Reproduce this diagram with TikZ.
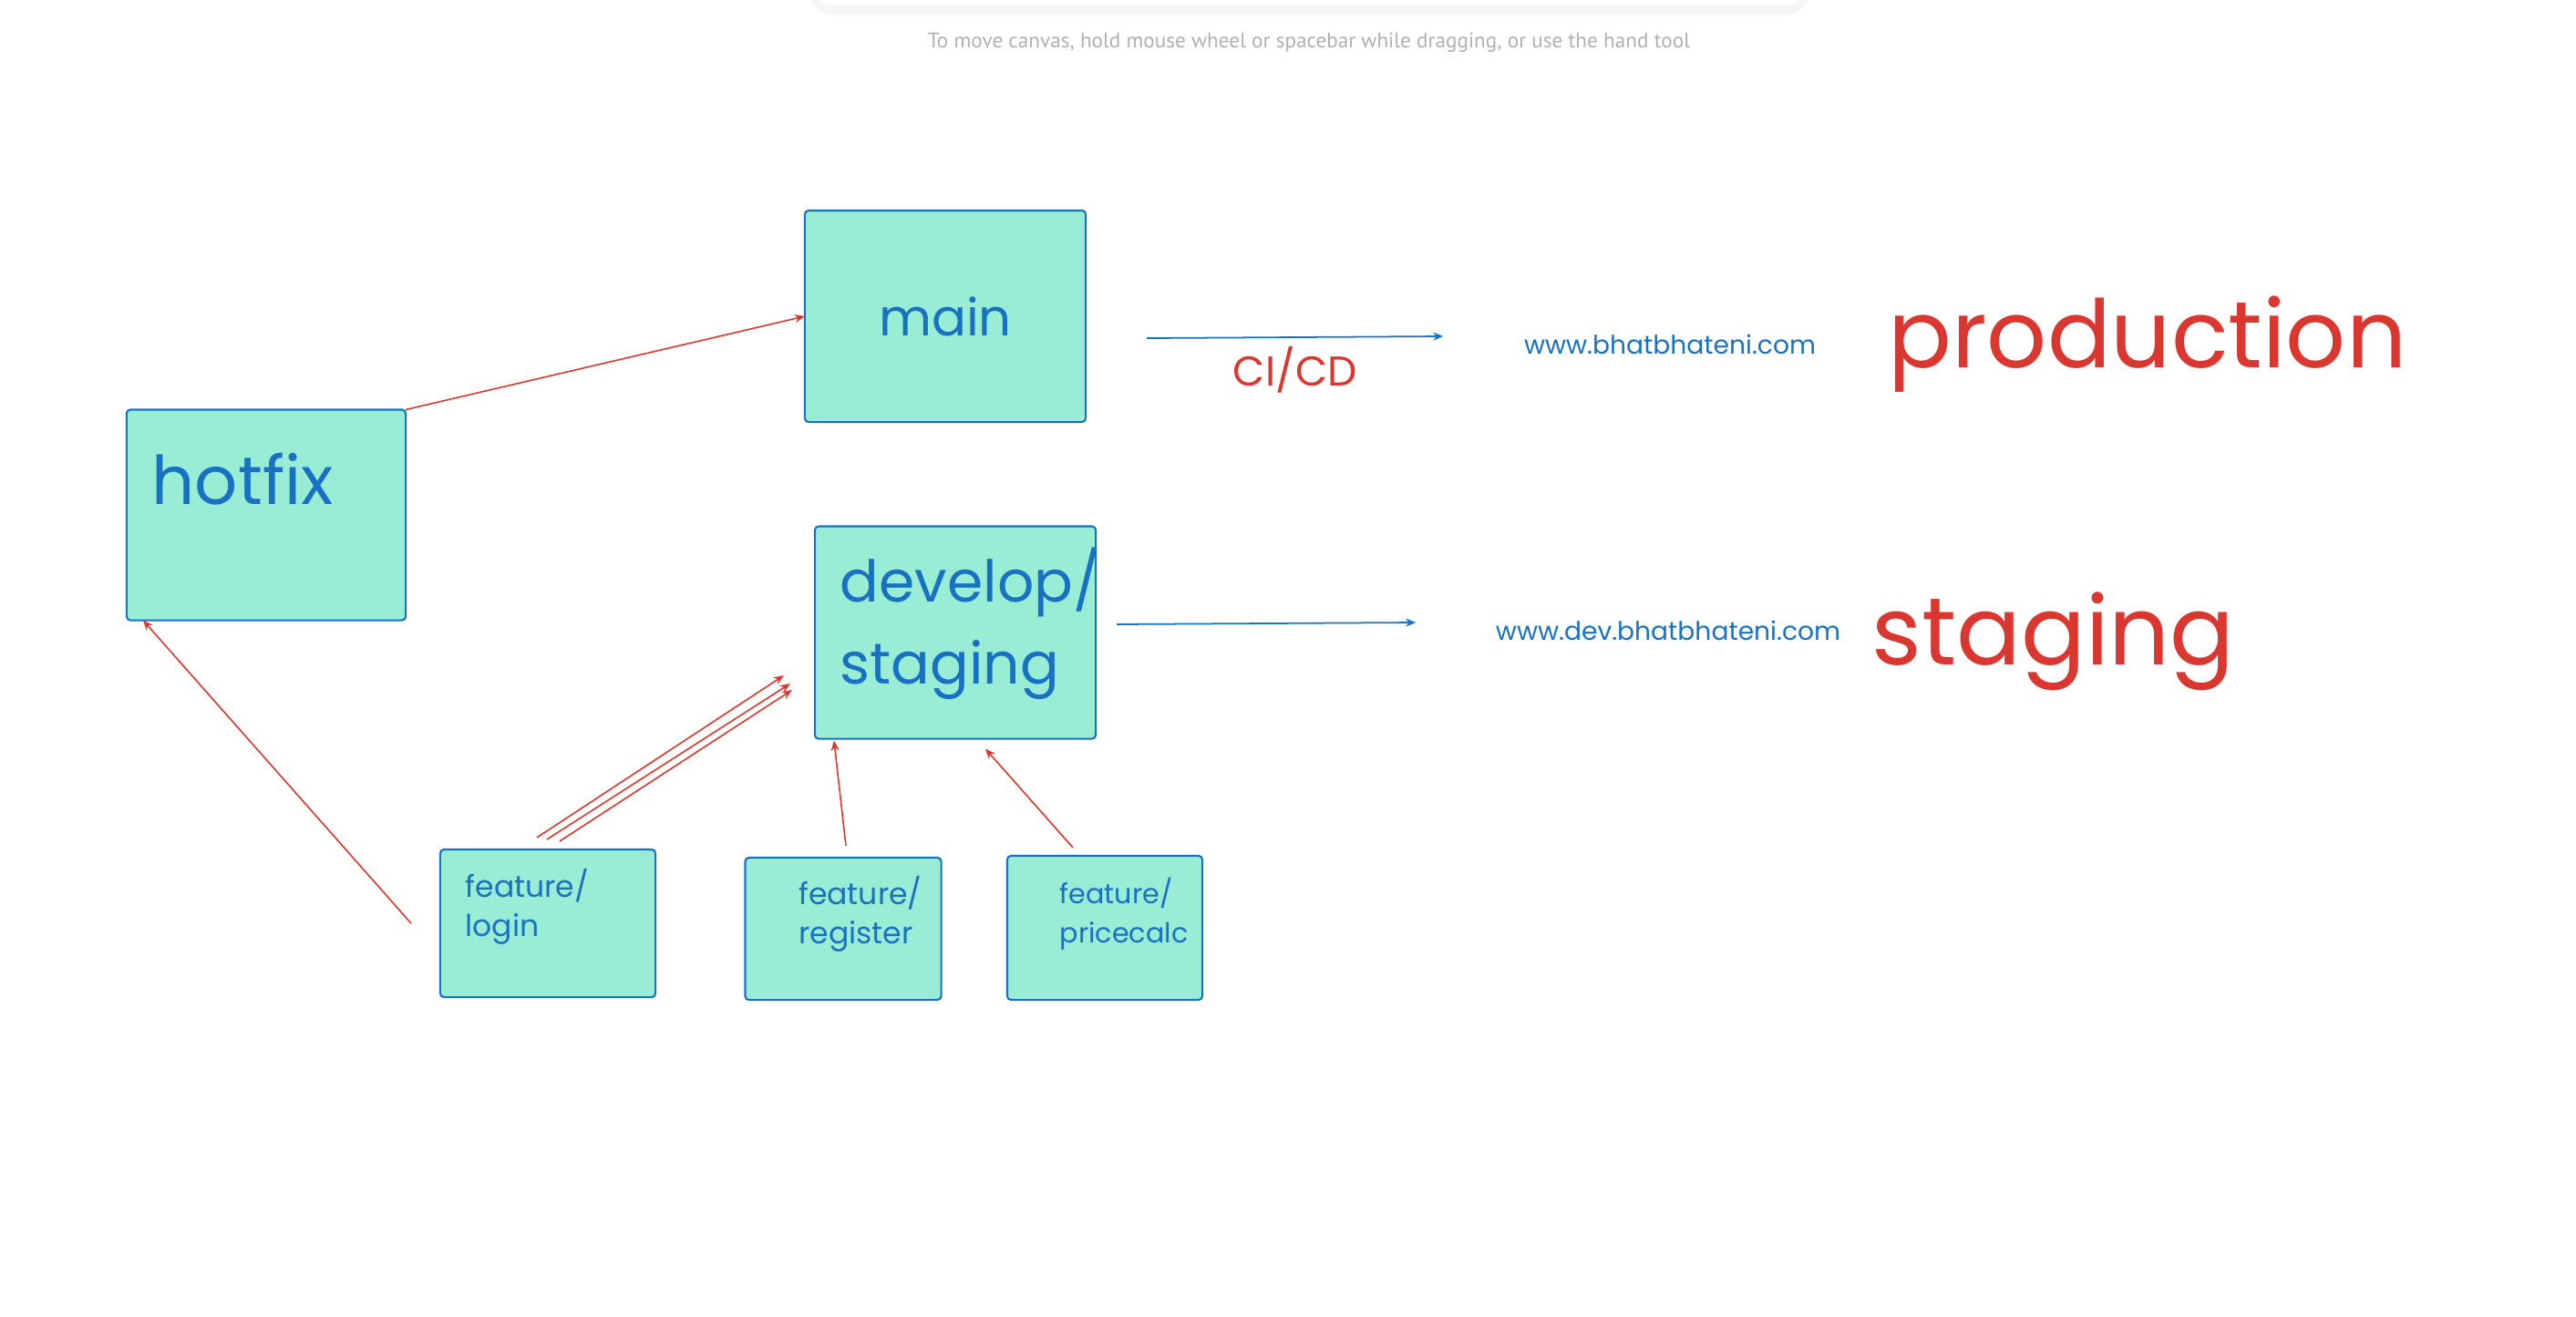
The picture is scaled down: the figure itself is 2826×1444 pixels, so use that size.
\documentclass[tikz,border=0pt]{standalone}
\usepackage{fontspec}
\setmainfont{Poppins}
\newfontfamily\hintfont{PT Sans}
\usetikzlibrary{arrows.meta,positioning,shadows}

\definecolor{mint}{HTML}{99EDD4}
\definecolor{inkblue}{HTML}{1971C2}
\definecolor{inkred}{HTML}{D9372F}
\definecolor{hintgray}{HTML}{B0B0B0}

\tikzset{
  branch/.style={draw=inkblue, fill=mint, line width=0.6pt, rounded corners=1.2pt,
    inner sep=0pt, outer sep=0pt},
  tag/.style={text=inkblue, inner sep=0pt, align=left},
  word/.style={text=inkred, inner sep=0pt},
  merge/.style={draw=inkred, line width=0.45pt, -{Stealth[length=1.1mm,width=0.9mm]}},
  deploy/.style={draw=inkblue, line width=0.5pt, -{Stealth[length=1.1mm,width=0.9mm]}},
}

\begin{document}
\begin{tikzpicture}[x=0.01cm,y=-0.01cm]
  \useasboundingbox (0,0) rectangle (2826,1444);

  % toolbar edge and canvas hint
  \fill[white, rounded corners=8pt,
    drop shadow={opacity=0.07,shadow xshift=0pt,shadow yshift=-3pt}] (887,-60) rectangle (1986,6);
  \node[font=\hintfont\fontsize{6.6}{8}\selectfont, text=hintgray] (hint) at (1436,47)
    {To move canvas, hold mouse wheel or spacebar while dragging, or use the hand tool};

  % branch boxes
  \node[branch, minimum width=3.08cm, minimum height=2.32cm, text=inkblue,
    font=\fontsize{16}{18}\selectfont] (main) at (1037,347) {main};
  \node[branch, minimum width=3.06cm, minimum height=2.31cm] (hotfix) at (292,565) {};
  \node[branch, minimum width=3.08cm, minimum height=2.33cm] (develop) at (1048,694) {};
  \node[branch, minimum width=2.36cm, minimum height=1.62cm] (login) at (601,1013) {};
  \node[branch, minimum width=2.15cm, minimum height=1.56cm] (register) at (925,1019) {};
  \node[branch, minimum width=2.14cm, minimum height=1.58cm] (pricecalc) at (1212,1018) {};

  % box texts
  \node[tag, anchor=west, font=\fontsize{21}{24}\selectfont] (hotfixtxt)
    at ([xshift=0.27cm,yshift=0.39cm]hotfix.west) {hotfix};
  \node[tag, anchor=west, font=\fontsize{18}{25.6}\selectfont] (developtxt)
    at ([xshift=0.27cm,yshift=0.1cm]develop.west) {develop/\\staging};
  \node[tag, anchor=west, font=\fontsize{9.4}{12.2}\selectfont] (logintxt)
    at ([xshift=0.27cm,yshift=0.18cm]login.west) {feature/\\login};
  \node[tag, anchor=west, font=\fontsize{9.4}{12.2}\selectfont] (registertxt)
    at ([xshift=0.58cm,yshift=0.16cm]register.west) {feature/\\register};
  \node[tag, anchor=west, font=\fontsize{8.6}{12.2}\selectfont] (pricecalctxt)
    at ([xshift=0.57cm,yshift=0.15cm]pricecalc.west) {feature/\\pricecalc};

  % environments
  \node[tag, font=\fontsize{8}{10}\selectfont] (produrl) at (1832,378) {www.bhatbhateni.com};
  \node[tag, font=\fontsize{8}{10}\selectfont] (devurl) at (1830,692) {www.dev.bhatbhateni.com};
  \node[word, font=\fontsize{29.4}{34}\selectfont, right=0.78cm of produrl] (prodword) {production};
  \node[word, font=\fontsize{29.8}{34}\selectfont, right=0.33cm of devurl, yshift=-0.12cm] (stageword) {staging};

  % merges
  \draw[merge] (hotfix.north east) -- (main.west);
  \draw[merge] ([xshift=-0.32cm]login.west) -- ([xshift=0.18cm]hotfix.south west);
  \foreach \a/\b/\c/\d in {-0.12/0.13/-0.34/-0.47, -0.01/0.11/-0.27/-0.56, 0.13/0.09/-0.25/-0.63}
    \draw[merge] ([xshift=\a cm,yshift=\b cm]login.north) -- ([xshift=\c cm,yshift=\d cm]develop.west);
  \draw[merge] ([xshift=0.03cm,yshift=0.13cm]register.north) -- ([xshift=0.21cm,yshift=-0.02cm]develop.south west);
  \draw[merge] ([xshift=-0.35cm,yshift=0.09cm]pricecalc.north) -- ([xshift=0.33cm,yshift=-0.11cm]develop.south);

  % deployments
  \draw[deploy] ([xshift=0.67cm,yshift=-0.24cm]main.east) -- ([xshift=-0.88cm,yshift=0.09cm]produrl.west)
    node[midway, below=0.1cm, word, font=\fontsize{13}{16}\selectfont] (cicd) {CI/CD};
  \draw[deploy] ([xshift=0.23cm,yshift=0.09cm]develop.east) -- ([xshift=-0.87cm,yshift=0.09cm]devurl.west);
\end{tikzpicture}
\end{document}
